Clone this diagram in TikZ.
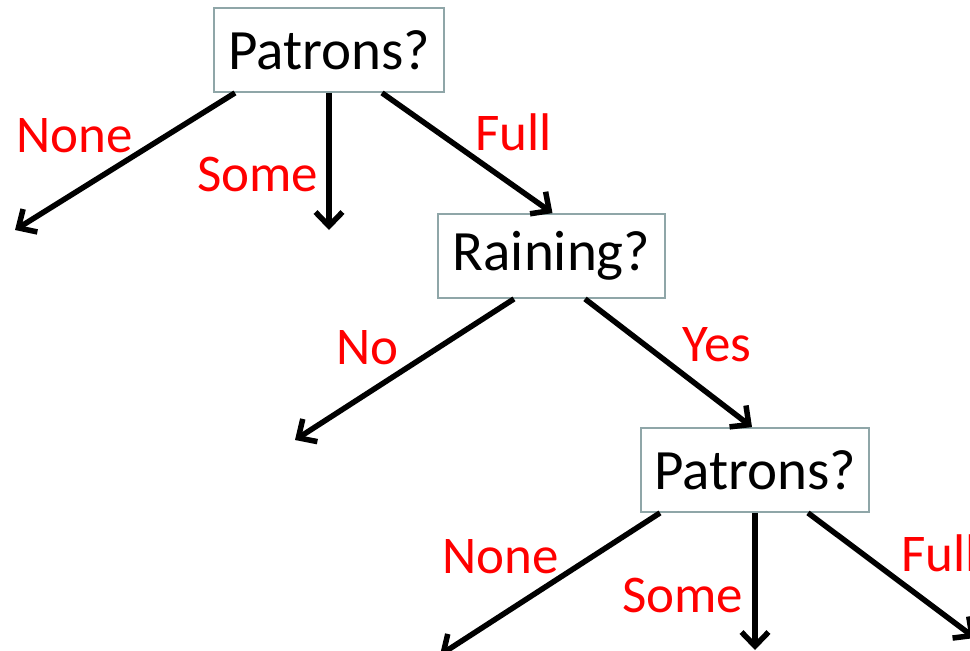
\documentclass[tikz,border=0pt]{standalone}
\usepackage{fontspec}
\setmainfont{Carlito}
\usetikzlibrary{arrows.meta}
\definecolor{boxline}{HTML}{8FA6A8}
\tikzset{
  box/.style={draw=boxline, line width=1.8pt, fill=white, minimum height=84pt, inner sep=0pt, font=\fontsize{57}{64}\selectfont},
  lbl/.style={text=red, inner sep=0pt, anchor=base west, font=\fontsize{53}{60}\selectfont},
  arr/.style={line width=5.5pt, -{Straight Barb[length=14pt,width=27pt,line width=5.5pt]}}
}
\begin{document}
\begin{tikzpicture}[x=1pt,y=-1pt]
\useasboundingbox (0,0) rectangle (970,651);
\clip (0,0) rectangle (970,651);
\node[box, minimum width=230pt] (b1) at (329,50) {Patrons?};
\node[box, minimum width=227pt] (b2) at (551.5,256) {Raining?};
\node[box, minimum width=228pt] (b3) at (755,470) {Patrons?};
\coordinate (e1) at (15,230);
\coordinate (e2) at (329,230);
\coordinate (e4) at (295,440);
\coordinate (e6) at (440,655);
\coordinate (e7) at (755,650);
\coordinate (e8) at (975,638);
\draw[arr] ([xshift=-94pt]b1.south) -- (e1);
\draw[arr] (b1.south) -- (e2);
\draw[arr] ([xshift=53pt]b1.south) -- ([xshift=1pt]b2.north);
\draw[arr] ([xshift=-37.5pt]b2.south) -- (e4);
\draw[arr] ([xshift=33.5pt]b2.south) -- ([xshift=-3pt]b3.north);
\draw[arr] ([xshift=-95pt]b3.south) -- (e6);
\draw[arr] (b3.south) -- (e7);
\draw[arr] ([xshift=53pt]b3.south) -- (e8);
\node[lbl] (l1) at (16,152) {None};
\node[lbl] (l2) at (197,191) {Some};
\node[lbl] (l3) at (475,150) {Full};
\node[lbl] (l4) at (336,364) {No};
\node[lbl] (l5) at (682,361) {Yes};
\node[lbl] (l6) at (442,573) {None};
\node[lbl] (l7) at (622,612) {Some};
\node[lbl] (l8) at (901,571) {Full};
\end{tikzpicture}
\end{document}
